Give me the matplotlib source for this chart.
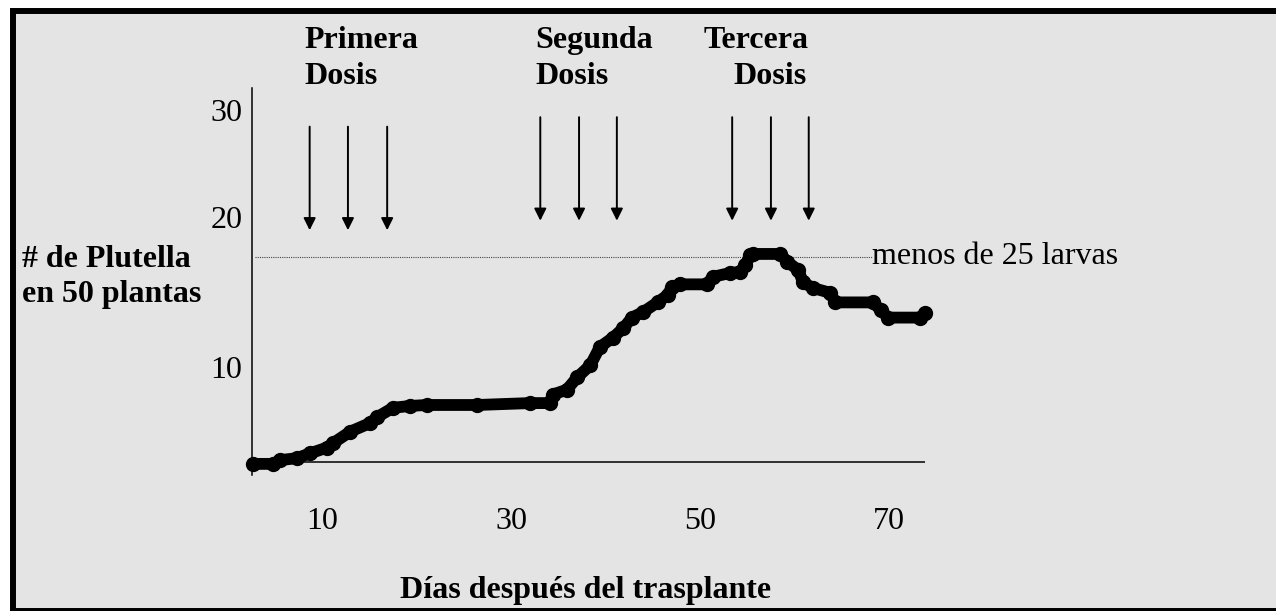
import matplotlib
matplotlib.use("Agg")
import matplotlib.pyplot as plt
from matplotlib.patches import Rectangle

# ---- data ----
dias = [2.7, 4.8, 5.6, 7.35, 8.7, 10.5, 11.2, 13.0, 15.1, 15.8, 17.5, 19.3, 21.1,
        26.4, 32.0, 34.1, 34.4, 35.9, 37.0, 38.4, 39.4, 40.8, 41.9, 42.8, 44.0,
        45.5, 46.6, 47.0, 47.9, 50.7, 51.4, 53.2, 54.2, 54.8, 55.3, 55.6, 58.5,
        59.2, 60.4, 60.9, 62.0, 63.8, 64.3, 68.3, 69.1, 69.9, 73.3, 73.8]
plutella = [-0.2, -0.2, 0.2, 0.4, 0.9, 1.5, 2.0, 3.2, 4.1, 4.7, 5.7, 5.9, 6.0,
            6.0, 6.2, 6.2, 7.1, 7.6, 8.9, 10.2, 12.1, 13.1, 14.1, 15.2, 15.8,
            16.8, 17.6, 18.4, 18.7, 18.7, 19.5, 19.9, 20.0, 20.7, 21.8, 21.9, 21.9,
            21.1, 20.2, 18.9, 18.3, 17.8, 16.8, 16.8, 16.0, 15.2, 15.2, 15.7]

umbral = 21.6
umbral_texto = "menos de 25 larvas"

dosis_x = [[8.7, 12.75, 16.9], [33.1, 37.2, 41.2], [53.4, 57.5, 61.5]]
dosis_y0 = [35.3, 36.3, 36.3]
dosis_y1 = [24.4, 25.4, 25.4]

xticks = [10, 30, 50, 70]
xtick_labels = ["10", "30", "50", "70"]
yticks = [10, 25.8, 37.05]
ytick_labels = ["10", "20", "30"]

W, H = 1276, 611
FS = 23
plt.rcParams['font.family'] = ['Liberation Serif', 'DejaVu Serif']

fig = plt.figure(figsize=(W / 100, H / 100), dpi=100, facecolor='white')

# grey panel with black frame
fig.patches.append(Rectangle((13 / W, 0), (1290 - 13) / W, (H - 11) / H,
                             transform=fig.transFigure, facecolor='#e4e4e4',
                             edgecolor='black', lw=4.3, zorder=-10))

def px(x, y):
    return x / W, 1 - y / H

ax_left, ax_right, ax_top, ax_bot = 252, 925, 88, 475
ax = fig.add_axes([ax_left / W, 1 - ax_bot / H, (ax_right - ax_left) / W, (ax_bot - ax_top) / H])
ax.set_zorder(5)
ax.set_facecolor('none')
ax.set_xlim(2.6, 73.8)
ax.set_ylim(-1.37, 39.37)
for s in ['top', 'right', 'bottom']:
    ax.spines[s].set_visible(False)
ax.spines['left'].set_linewidth(1.1)
ax.axhline(0, color='black', lw=1.1)

ax.set_xticks(xticks, xtick_labels)
ax.set_yticks(yticks, ytick_labels)
ax.tick_params(axis='both', length=0, labelsize=FS)
ax.tick_params(axis='x', pad=23)
ax.tick_params(axis='y', pad=7)

# threshold
ax.hlines(umbral, 2.9, 68.2, colors='#444444', linestyles=(0, (1, 1)), lw=0.8)
ax.text(68.2, umbral, umbral_texto, fontsize=FS, va='center', ha='left', clip_on=False)

# curve
ax.plot(dias, plutella, color='black', lw=8.5, solid_joinstyle='round',
        solid_capstyle='round', marker='o', markersize=10, zorder=3, clip_on=False)

# dose arrows
for xs, y0, y1 in zip(dosis_x, dosis_y0, dosis_y1):
    for x in xs:
        ax.annotate('', xy=(x, y1), xytext=(x, y0), annotation_clip=False,
                    arrowprops=dict(arrowstyle='-|>,head_length=0.6,head_width=0.3',
                                    mutation_scale=12, lw=1.4, color='black',
                                    shrinkA=0, shrinkB=0))

# headers
headers = [("Primera", 304, 48), ("Dosis", 304, 84),
           ("Segunda", 535, 48), ("Dosis", 535, 84),
           ("Tercera", 704, 48), ("Dosis", 733, 84)]
for t, x, y in headers:
    fig.text(*px(x, y), t, fontsize=FS, fontweight='bold', ha='left', va='baseline')

fig.text(*px(22, 267), "# de Plutella", fontsize=FS, fontweight='bold', ha='left', va='baseline')
fig.text(*px(22, 302), "en 50 plantas", fontsize=FS, fontweight='bold', ha='left', va='baseline')
fig.text(*px(586, 598), "Días después del trasplante", fontsize=FS, fontweight='bold',
         ha='center', va='baseline')

fig.savefig("out.png", dpi=100, facecolor='white')
